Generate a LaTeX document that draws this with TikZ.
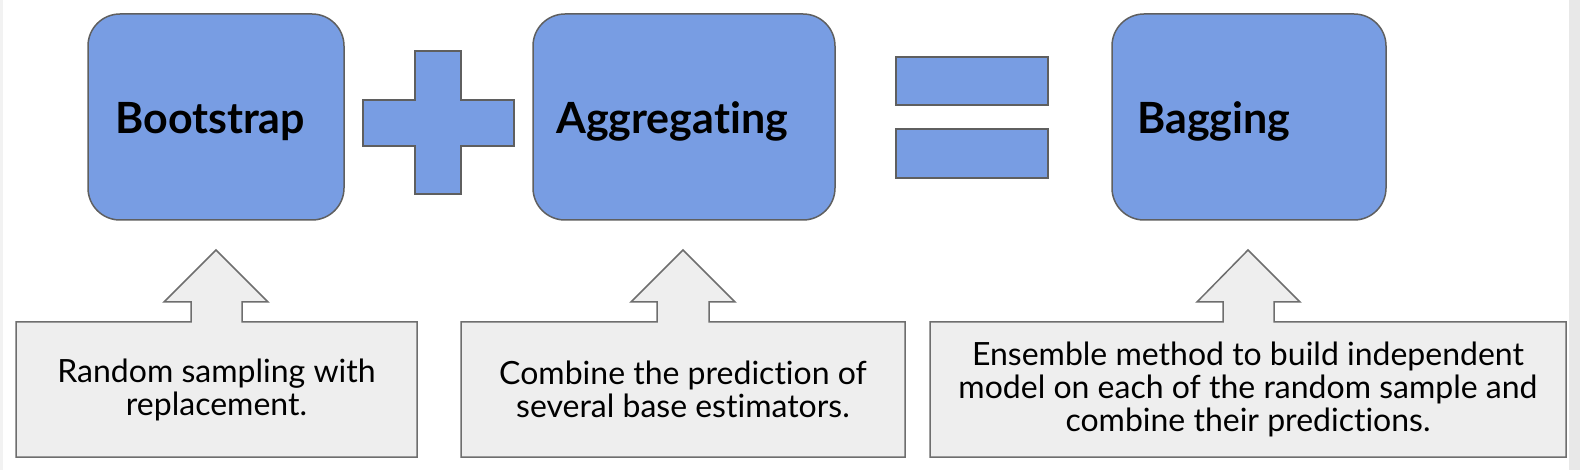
\documentclass[tikz,border=0pt]{standalone}
\usepackage{fontspec}
\setmainfont{Lato}[Ligatures=NoCommon]
\definecolor{boxblue}{RGB}{120,157,227}
\definecolor{boxedge}{RGB}{95,95,95}
\definecolor{callfill}{RGB}{238,238,238}
\definecolor{calledge}{RGB}{110,110,110}
\definecolor{stripL}{RGB}{242,242,242}
\definecolor{stripR}{RGB}{232,232,232}
\begin{document}
\begin{tikzpicture}[x=1pt,y=-1pt,
  bluebox/.style={draw=boxedge, line width=1.5pt, fill=boxblue, rounded corners=32pt, inner sep=0pt},
  symbolshape/.style={draw=boxedge, line width=1.8pt, fill=boxblue},
  callshape/.style={draw=calledge, line width=1.5pt, fill=callfill},
  title/.style={font=\bfseries\fontsize{43pt}{43pt}\selectfont, inner sep=0pt},
  body/.style={font=\fontsize{32pt}{33pt}\selectfont, align=center, inner sep=0pt}]
\useasboundingbox (0,0) rectangle (1580,470);
\fill[white] (0,0) rectangle (1580,470);
\fill[stripL] (0,0) rectangle (3,470);
\fill[stripR] (1569,0) rectangle (1580,470);
% main boxes
\node[bluebox, minimum width=256pt, minimum height=206pt] (boot) at (216,117) {};
\node[bluebox, minimum width=302pt, minimum height=206pt] (aggr) at (684,117) {};
\node[bluebox, minimum width=274pt, minimum height=206pt] (bagg) at (1249,117) {};
\node[title, anchor=base west] (bootT) at (115,134) {Bootstrap};
\node[title, anchor=base west] (aggrT) at (556,134) {Aggregating};
\node[title, anchor=base west] (baggT) at (1137,134) {Bagging};
% plus sign
\draw[symbolshape] (415,51) -- (461,51) -- (461,100) -- (514,100) -- (514,146) -- (461,146)
  -- (461,194) -- (415,194) -- (415,146) -- (363,146) -- (363,100) -- (415,100) -- cycle;
% equals sign
\draw[symbolshape] (896,57) rectangle (1048,105);
\draw[symbolshape] (896,129) rectangle (1048,178);
% callouts
\draw[callshape] (16,322) -- (191,322) -- (191,302) -- (164,302) -- (216,250) -- (268,302)
  -- (242,302) -- (242,322) -- (417,322) -- (417,457) -- (16,457) -- cycle;
\draw[callshape] (461,322) -- (657,322) -- (657,302) -- (631,302) -- (683,250) -- (735,302)
  -- (709,302) -- (709,322) -- (905,322) -- (905,457) -- (461,457) -- cycle;
\draw[callshape] (930,322) -- (1223,322) -- (1223,302) -- (1197,302) -- (1248,250) -- (1300,302)
  -- (1274,302) -- (1274,322) -- (1566,322) -- (1566,457) -- (930,457) -- cycle;
\node[body] (bootD) at (216.5,389.5) {Random sampling with\\replacement.};
\node[body] (aggrD) at (683,389.5) {Combine the prediction of\\several base estimators.};
\node[body] (baggD) at (1248,389.5) {Ensemble method to build independent\\model on each of the random sample and\\combine their predictions.};
\end{tikzpicture}
\end{document}
